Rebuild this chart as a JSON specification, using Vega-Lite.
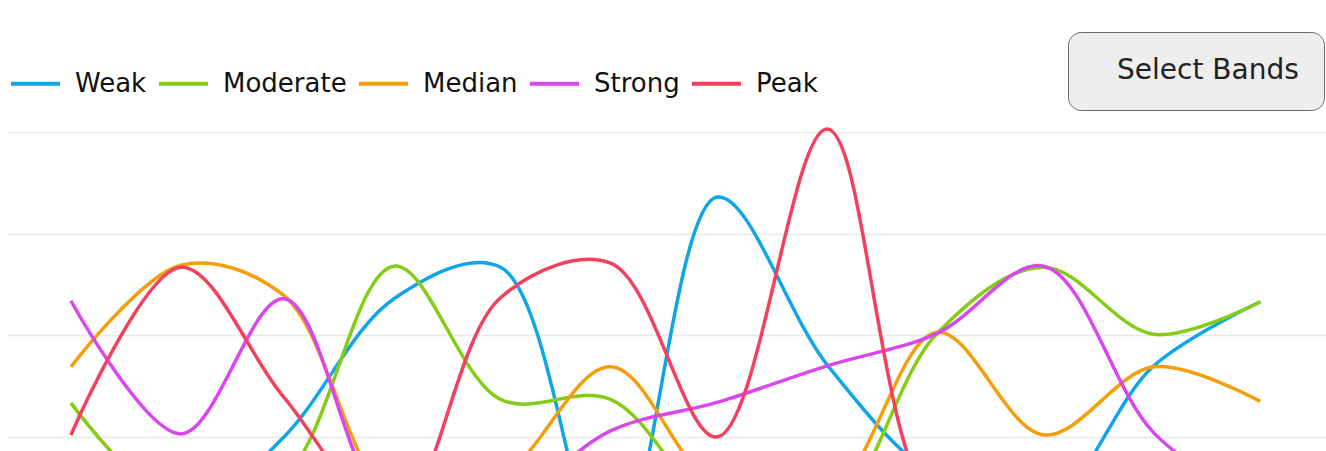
{
  "$schema": "https://vega.github.io/schema/vega-lite/v6.json",
  "width": 1319,
  "height": 319,
  "autosize": {"type": "none"},
  "padding": {"left": 7, "top": 132, "right": 0, "bottom": 0},
  "background": "white",
  "config": {"view": {"stroke": null}, "font": "DejaVu Sans"},
  "layer": [
    {
      "data": {"values": [
        {"band": "Weak", "date": "2024-01-01", "value": 3},
        {"band": "Weak", "date": "2024-02-01", "value": 2},
        {"band": "Weak", "date": "2024-03-01", "value": 10.0},
        {"band": "Weak", "date": "2024-04-01", "value": 23.6},
        {"band": "Weak", "date": "2024-05-01", "value": 26.7},
        {"band": "Weak", "date": "2024-06-01", "value": -3},
        {"band": "Weak", "date": "2024-07-01", "value": 33.6},
        {"band": "Weak", "date": "2024-08-01", "value": 17.1},
        {"band": "Weak", "date": "2024-09-01", "value": 6},
        {"band": "Weak", "date": "2024-10-01", "value": 3},
        {"band": "Weak", "date": "2024-11-01", "value": 17.0},
        {"band": "Weak", "date": "2024-12-01", "value": 23.3},
        {"band": "Moderate", "date": "2024-01-01", "value": 13.35},
        {"band": "Moderate", "date": "2024-02-01", "value": 3},
        {"band": "Moderate", "date": "2024-03-01", "value": 6},
        {"band": "Moderate", "date": "2024-04-01", "value": 26.8},
        {"band": "Moderate", "date": "2024-05-01", "value": 13.7},
        {"band": "Moderate", "date": "2024-06-01", "value": 13.7},
        {"band": "Moderate", "date": "2024-07-01", "value": 3},
        {"band": "Moderate", "date": "2024-08-01", "value": 2},
        {"band": "Moderate", "date": "2024-09-01", "value": 20.2},
        {"band": "Moderate", "date": "2024-10-01", "value": 26.7},
        {"band": "Moderate", "date": "2024-11-01", "value": 20.1},
        {"band": "Moderate", "date": "2024-12-01", "value": 23.3},
        {"band": "Median", "date": "2024-01-01", "value": 16.9},
        {"band": "Median", "date": "2024-02-01", "value": 26.9},
        {"band": "Median", "date": "2024-03-01", "value": 23.9},
        {"band": "Median", "date": "2024-04-01", "value": 4},
        {"band": "Median", "date": "2024-05-01", "value": 6},
        {"band": "Median", "date": "2024-06-01", "value": 16.9},
        {"band": "Median", "date": "2024-07-01", "value": 5},
        {"band": "Median", "date": "2024-08-01", "value": 4},
        {"band": "Median", "date": "2024-09-01", "value": 20.3},
        {"band": "Median", "date": "2024-10-01", "value": 10.2},
        {"band": "Median", "date": "2024-11-01", "value": 16.9},
        {"band": "Median", "date": "2024-12-01", "value": 13.5},
        {"band": "Strong", "date": "2024-01-01", "value": 23.4},
        {"band": "Strong", "date": "2024-02-01", "value": 10.3},
        {"band": "Strong", "date": "2024-03-01", "value": 23.6},
        {"band": "Strong", "date": "2024-04-01", "value": 2},
        {"band": "Strong", "date": "2024-05-01", "value": 3},
        {"band": "Strong", "date": "2024-06-01", "value": 10.6},
        {"band": "Strong", "date": "2024-07-01", "value": 13.4},
        {"band": "Strong", "date": "2024-08-01", "value": 17.0},
        {"band": "Strong", "date": "2024-09-01", "value": 20.2},
        {"band": "Strong", "date": "2024-10-01", "value": 26.8},
        {"band": "Strong", "date": "2024-11-01", "value": 10.4},
        {"band": "Strong", "date": "2024-12-01", "value": 3},
        {"band": "Peak", "date": "2024-01-01", "value": 10.2},
        {"band": "Peak", "date": "2024-02-01", "value": 26.7},
        {"band": "Peak", "date": "2024-03-01", "value": 13.9},
        {"band": "Peak", "date": "2024-04-01", "value": 2},
        {"band": "Peak", "date": "2024-05-01", "value": 23.7},
        {"band": "Peak", "date": "2024-06-01", "value": 27.1},
        {"band": "Peak", "date": "2024-07-01", "value": 10.0},
        {"band": "Peak", "date": "2024-08-01", "value": 40.3},
        {"band": "Peak", "date": "2024-09-01", "value": 3},
        {"band": "Peak", "date": "2024-10-01", "value": 4},
        {"band": "Peak", "date": "2024-11-01", "value": 3},
        {"band": "Peak", "date": "2024-12-01", "value": 5}
      ]},
      "mark": {"type": "line", "interpolate": "catmull-rom", "strokeWidth": 3.5},
      "encoding": {
        "x": {
          "field": "date", "type": "temporal",
          "scale": {"type": "utc", "domain": [
            {"year": 2023, "month": 12, "date": 14, "utc": true},
            {"year": 2024, "month": 12, "date": 19, "hours": 12, "utc": true}
          ]},
          "axis": null
        },
        "y": {
          "field": "value", "type": "quantitative",
          "scale": {"domain": [8.62, 40], "nice": false, "zero": false},
          "axis": {"values": [10, 20, 30, 40], "grid": true, "gridColor": "#e8e8e8", "gridWidth": 1.5, "domain": false, "ticks": false, "labels": false, "title": null}
        },
        "color": {
          "field": "band", "type": "nominal",
          "scale": {"domain": ["Weak", "Moderate", "Median", "Strong", "Peak"], "range": ["#0ea5e9", "#84cc16", "#f59e0b", "#d946ef", "#f43f5e"]},
          "legend": {"title": null, "orient": "none", "legendX": 2, "legendY": -75, "direction": "horizontal", "columns": 5, "symbolType": "stroke", "symbolSize": 2401, "symbolStrokeWidth": 4, "labelFont": "DejaVu Sans", "labelFontSize": 26, "labelColor": "#111111", "labelOffset": 13, "columnPadding": 4, "labelLimit": 400, "padding": 0}
        }
      }
    },
    {
      "data": {"values": [{"control": "Select Bands"}]},
      "mark": {"type": "point", "opacity": 0},
      "encoding": {
        "shape": {
          "field": "control", "type": "nominal",
          "legend": {"title": null, "orient": "none", "legendX": 1061, "legendY": -100, "fillColor": "#eeeeee", "strokeColor": "#6b6b6b", "cornerRadius": 13, "padding": 25, "symbolSize": 0, "symbolOpacity": 0, "symbolStrokeWidth": 0, "labelFont": "DejaVu Sans", "labelFontSize": 28, "labelColor": "#222222", "labelOffset": -4, "labelLimit": 600, "labelExpr": "datum.label + '        '"}
        }
      }
    }
  ]
}
